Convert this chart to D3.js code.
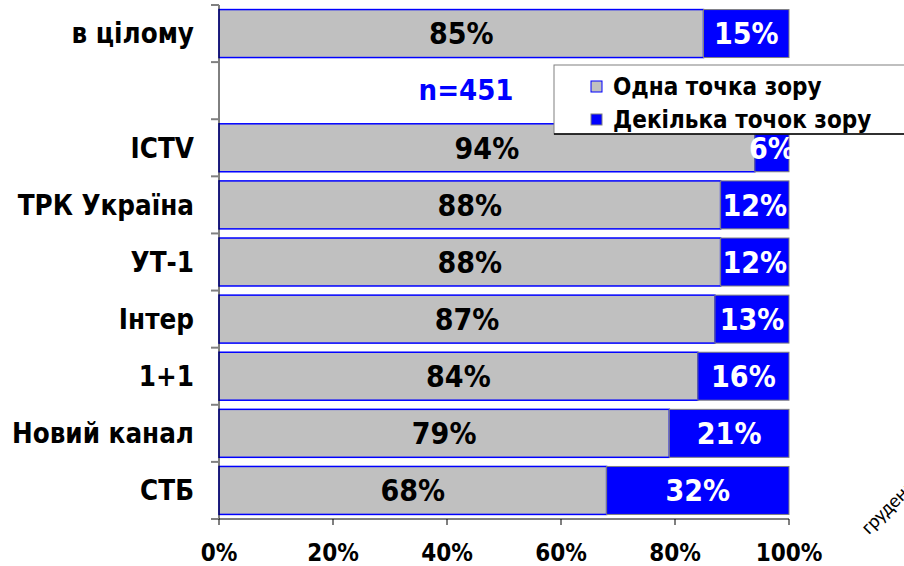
<!DOCTYPE html>
<html>
<head>
<meta charset="utf-8">
<script src="https://cdn.jsdelivr.net/npm/d3@7"></script>
<style>
  body { margin: 0; background: #fff; }
  svg { font-family: "DejaVu Sans Condensed", "DejaVu Sans", sans-serif; font-stretch: condensed; font-weight: bold; }
</style>
</head>
<body>
<div id="chart"></div>
<script>
//Chart data
var categories = ["в цілому", " ", "ICTV", "ТРК Україна", "УТ-1", "Інтер", "1+1", "Новий канал", "СТБ"];
var oneView = [85, null, 94, 88, 88, 87, 84, 79, 68];
var severalViews = [15, null, 6, 12, 12, 13, 16, 21, 32];
var seriesNames = ["Одна точка зору", "Декілька точок зору"];
var xTicks = [0, 20, 40, 60, 80, 100];
var sampleNote = "n=451";
var dateNote = "грудень 2007";

var width = 904,
    height = 566;

var svg = d3.select("#chart").append("svg")
    .attr("width", width)
    .attr("height", height);

//scales
var x = d3.scaleLinear()
    .domain([0, 100])
    .range([219, 789]);

var y = d3.scaleBand()
    .domain(categories)
    .range([5, 519])
    .paddingInner(0.16)
    .paddingOuter(0.08);

var rows = categories.map(function(c, i) {
    return {cat: c, one: oneView[i], several: severalViews[i]};
}).filter(function(d) { return d.one != null; });

//gray segments
svg.append("g").selectAll("rect")
    .data(rows)
    .enter()
    .append("rect")
    .attr("x", x(0))
    .attr("y", function(d) { return y(d.cat); })
    .attr("width", function(d) { return x(d.one) - x(0); })
    .attr("height", y.bandwidth())
    .style("fill", "#c0c0c0")
    .style("stroke", "#0000ff")
    .style("stroke-width", 1.5);

//blue segments
svg.append("g").selectAll("rect")
    .data(rows)
    .enter()
    .append("rect")
    .attr("x", function(d) { return x(d.one); })
    .attr("y", function(d) { return y(d.cat); })
    .attr("width", function(d) { return x(d.one + d.several) - x(d.one); })
    .attr("height", y.bandwidth())
    .style("fill", "#0000ff")
    .style("stroke", "#808080")
    .style("stroke-width", 1);

//value labels
svg.append("g").selectAll("text")
    .data(rows)
    .enter()
    .append("text")
    .attr("x", function(d) { return (x(0) + x(d.one)) / 2; })
    .attr("y", function(d) { return y(d.cat) + y.bandwidth() / 2; })
    .attr("dy", "0.36em")
    .attr("text-anchor", "middle")
    .style("font-size", "30px")
    .style("fill", "#000")
    .text(function(d) { return d.one + "%"; });

svg.append("g").selectAll("text")
    .data(rows)
    .enter()
    .append("text")
    .attr("x", function(d) { return (x(d.one) + x(d.one + d.several)) / 2; })
    .attr("y", function(d) { return y(d.cat) + y.bandwidth() / 2; })
    .attr("dy", "0.36em")
    .attr("text-anchor", "middle")
    .style("font-size", "30px")
    .style("fill", "#fff")
    .text(function(d) { return d.several + "%"; });

//y axis
var yAxis = svg.append("g")
    .attr("transform", "translate(" + x(0) + ",0)");
yAxis.append("line")
    .attr("y1", 5).attr("y2", 519)
    .style("stroke", "#000");
var bounds = categories.map(function(c) { return y(c) - y.step() * y.paddingInner() / 2; });
bounds.push(519);
yAxis.selectAll(".tick")
    .data(bounds)
    .enter()
    .append("line")
    .attr("x1", -8).attr("x2", 0)
    .attr("y1", function(d) { return d; })
    .attr("y2", function(d) { return d; })
    .style("stroke", "#808080")
    .style("stroke-width", 2);
yAxis.selectAll("text")
    .data(categories)
    .enter()
    .append("text")
    .attr("x", -25)
    .attr("y", function(d) { return y(d) + y.bandwidth() / 2; })
    .attr("dy", "0.36em")
    .attr("text-anchor", "end")
    .style("font-size", "27.5px")
    .text(function(d) { return d; });

//x axis
var xAxis = svg.append("g")
    .attr("transform", "translate(0,519)");
xAxis.append("line")
    .attr("x1", x(0)).attr("x2", x(100))
    .style("stroke", "#000");
xAxis.selectAll(".tick")
    .data(xTicks)
    .enter()
    .append("line")
    .attr("x1", function(d) { return x(d); })
    .attr("x2", function(d) { return x(d); })
    .attr("y1", 0).attr("y2", 6)
    .style("stroke", "#000");
xAxis.selectAll("text")
    .data(xTicks)
    .enter()
    .append("text")
    .attr("x", function(d) { return x(d); })
    .attr("y", 33)
    .attr("dy", "0.36em")
    .attr("text-anchor", "middle")
    .style("font-size", "24px")
    .text(function(d) { return d + "%"; });

//sample size
svg.append("text")
    .attr("x", 466)
    .attr("y", 90)
    .attr("dy", "0.36em")
    .attr("text-anchor", "middle")
    .style("font-size", "29px")
    .style("fill", "#0000ff")
    .text(sampleNote);

//legend box (drawn over the ICTV bar as in the original)
var legend = svg.append("g");
legend.append("rect")
    .attr("x", 554).attr("y", 65)
    .attr("width", 380).attr("height", 69)
    .style("fill", "#fff")
    .style("stroke", "#808080");
legend.append("line")
    .attr("x1", 554).attr("x2", 904)
    .attr("y1", 134).attr("y2", 134)
    .style("stroke", "#000")
    .style("stroke-width", 1.5);
var swatchFill = ["#c0c0c0", "#0000ff"];
var swatchStroke = ["#0000ff", "#808080"];
seriesNames.forEach(function(name, i) {
    var cy = 86 + i * 33;
    legend.append("rect")
        .attr("x", 591).attr("y", cy - 5)
        .attr("width", 11).attr("height", 11)
        .style("fill", swatchFill[i])
        .style("stroke", swatchStroke[i]);
    legend.append("text")
        .attr("x", 613)
        .attr("y", cy)
        .attr("dy", "0.36em")
        .style("font-size", "24px")
        .text(name);
});

//date note in the corner (runs off the page as in the original)
svg.append("text")
    .attr("transform", "translate(869,535) rotate(-45)")
    .style("font-family", "Carlito, 'Liberation Sans', sans-serif")
    .style("font-weight", "normal")
    .style("font-stretch", "normal")
    .style("font-size", "20px")
    .style("fill", "#000")
    .text(dateNote);
</script>
</body>
</html>
